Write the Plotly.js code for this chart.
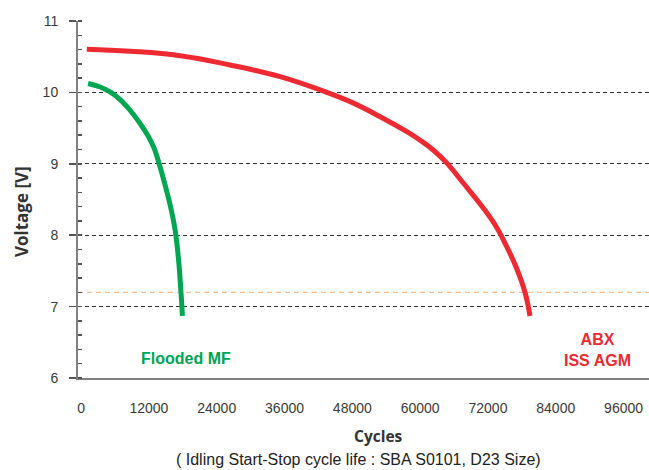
<!DOCTYPE html>
<html>
<head>
<meta charset="utf-8">
<script src="https://cdn.plot.ly/plotly-3.0.1.min.js"></script>
<style>
html,body{margin:0;padding:0;background:#fff;}
#chart{width:649px;height:470px;}
</style>
</head>
<body>
<div id="chart"></div>
<script>
// Flooded MF series
const floodedCycles = [1240, 3360, 5130, 6900, 8670, 10440, 11860, 12920, 13810, 14870, 15880, 16640, 17220, 17650, 17930];
const floodedVolts  = [10.125, 10.076, 10.006, 9.90, 9.75, 9.564, 9.39, 9.22, 9.00, 8.70, 8.38, 8.07, 7.68, 7.23, 6.87];
// ABX ISS AGM series
const agmCycles = [1010, 8670, 17520, 26370, 35220, 43490, 48200, 52920, 57650, 60000, 62360, 64730, 67670, 70620, 73280, 75350, 77120, 78590, 79440];
const agmVolts  = [10.604, 10.576, 10.514, 10.384, 10.22, 10.00, 9.85, 9.66, 9.45, 9.33, 9.19, 9.01, 8.727, 8.437, 8.143, 7.835, 7.527, 7.19, 6.868];
// reference threshold
const thresholdVolt = 7.2;
// tick labels
const xTicks = [0, 12000, 24000, 36000, 48000, 60000, 72000, 84000, 96000];
const yTicks = [6, 7, 8, 9, 10, 11];

const traces = [
  {x: floodedCycles, y: floodedVolts, mode: 'lines', line: {color: '#00a651', width: 5, shape: 'spline', smoothing: 1.2}, hoverinfo: 'skip'},
  {x: agmCycles, y: agmVolts, mode: 'lines', line: {color: '#ed2a32', width: 5, shape: 'spline', smoothing: 1.2}, hoverinfo: 'skip'}
];

const layout = {
  width: 649, height: 470,
  margin: {l: 78, r: 0, t: 21, b: 92},
  paper_bgcolor: '#fff', plot_bgcolor: '#fff',
  showlegend: false,
  font: {family: 'Liberation Sans, Arial, sans-serif', color: '#333', size: 14},
  xaxis: {
    range: [-550, 100500],
    tickmode: 'array', tickvals: xTicks, ticktext: xTicks.map(String),
    showgrid: false, zeroline: false,
    showline: true, linecolor: '#808080', linewidth: 2,
    ticks: '', ticklabelstandoff: 16,
    tickfont: {size: 14, color: '#3a3a3a'}
  },
  yaxis: {
    range: [6, 11],
    tickmode: 'array', tickvals: yTicks,
    showgrid: true, gridcolor: '#333', gridwidth: 1, griddash: '4px,3px',
    zeroline: false,
    showline: true, linecolor: '#808080', linewidth: 2,
    ticks: 'outside', ticklen: 7, tickcolor: '#555', tickwidth: 1.5,
    ticklabelstandoff: 8,
    minor: {dtick: 0.2, ticks: 'inside', ticklen: 4, tickcolor: '#555', tickwidth: 1.5, showgrid: false},
    tickfont: {size: 14, color: '#3a3a3a'}
  },
  shapes: [
    {type: 'line', xref: 'paper', x0: 0, x1: 1, yref: 'y', y0: thresholdVolt, y1: thresholdVolt,
     line: {color: '#f4b07a', width: 1, dash: '5px,4px'}, layer: 'below'}
  ],
  annotations: [
    {text: 'Flooded MF', xref: 'paper', yref: 'paper', x: 0.189, y: 0.055, xanchor: 'center', yanchor: 'middle', showarrow: false,
     font: {family: 'Liberation Sans, Arial', size: 16, color: '#00a651', weight: 'bold'}},
    {text: 'ABX<br>ISS AGM', xref: 'paper', yref: 'paper', x: 0.909, y: 0.078, xanchor: 'center', yanchor: 'middle', showarrow: false,
     align: 'center',
     font: {family: 'Liberation Sans, Arial', size: 16, color: '#ed2a32', weight: 'bold'}},
    {text: 'Voltage [V]', xref: 'paper', yref: 'paper', x: -0.098, y: 0.465, xanchor: 'center', yanchor: 'middle', textangle: -90, showarrow: false,
     font: {family: 'Open Sans, sans-serif', size: 17, color: '#333', weight: 'bold'}},
    {text: 'Cycles', xref: 'paper', yref: 'paper', x: 0.527, y: -0.162, xanchor: 'center', yanchor: 'middle', showarrow: false,
     font: {family: 'Open Sans, sans-serif', size: 15.5, color: '#333', weight: 'bold'}},
    {text: '( Idling Start-Stop cycle life : SBA S0101, D23 Size)', xref: 'paper', yref: 'paper', x: 0.492, y: -0.227, xanchor: 'center', yanchor: 'middle', showarrow: false,
     font: {family: 'Liberation Sans, Arial', size: 16, color: '#222'}}
  ]
};

Plotly.newPlot('chart', traces, layout, {staticPlot: true, displayModeBar: false});
</script>
</body>
</html>
